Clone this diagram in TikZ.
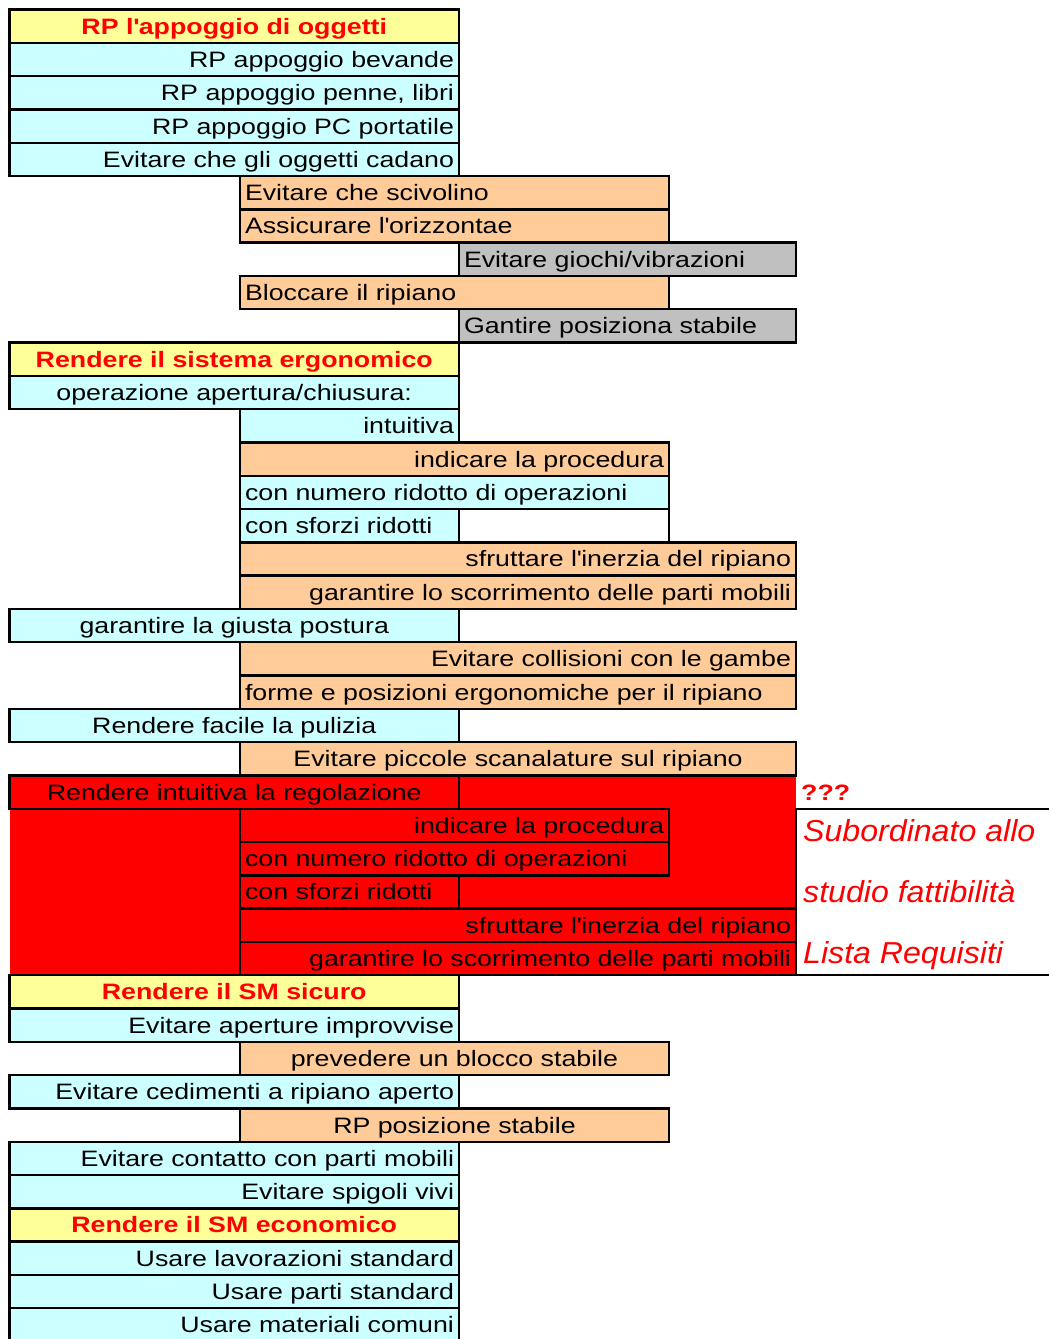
\documentclass[tikz,border=0pt]{standalone}
\usepackage{fontspec}
\setmainfont[FakeStretch=1.2]{Liberation Sans}
\newfontfamily\itfnt[FakeStretch=1.06]{Liberation Sans}
\definecolor{cyanc}{HTML}{CCFFFF}
\definecolor{yelc}{HTML}{FFFF99}
\definecolor{orgc}{HTML}{FFCC99}
\definecolor{gryc}{HTML}{C0C0C0}
\definecolor{redc}{HTML}{FF0000}
\newcommand\nfnt{\fontsize{22.3pt}{26pt}\selectfont}
\newcommand\bfnt{\bfseries\fontsize{22.3pt}{26pt}\selectfont}
\newcommand\ifnt{\itfnt\itshape\fontsize{30.3pt}{36pt}\selectfont}
\newcommand\q{\textquotesingle}
\tikzset{
  cell/.style={draw, line width=2.4pt, outer sep=0pt, inner xsep=5pt, inner ysep=0pt,
    minimum height=33.3pt, text height=19.5pt, text depth=3.5pt, anchor=north west, font=\nfnt},
  wA/.style={text width=439.5pt},
  wB/.style={text width=209pt},
  wC/.style={text width=419pt},
  wD/.style={text width=327pt},
  wE/.style={text width=546pt},
  wF/.style={text width=200pt},
  yel/.style={fill=yelc, text=redc, font=\bfnt, align=center},
  cyn/.style={fill=cyanc},
  org/.style={fill=orgc},
  gry/.style={fill=gryc},
  rdc/.style={fill=redc},
  L/.style={align=left},
  R/.style={align=right},
  C/.style={align=center},
  note/.style={text=redc, font=\ifnt, anchor=base west, inner sep=0pt}
}
\begin{document}
\begin{tikzpicture}[x=1pt,y=1pt]
\useasboundingbox (0,0) rectangle (1049,-1339);
\clip (0,0) rectangle (1049,-1339);
\begin{scope}[y=-33.3pt, yshift=-9.5pt]
\node[fill=redc, anchor=north west, minimum width=786.5pt, minimum height=199.8pt, inner sep=0pt, outer sep=0pt] (redbg) at (9.5,23) {};
\node[cell,wA,yel] (r0) at (9.5,0) {RP l\q appoggio di oggetti};
\node[cell,wA,cyn,R] (r1) at (9.5,1) {RP appoggio bevande};
\node[cell,wA,cyn,R] (r2) at (9.5,2) {RP appoggio penne, libri};
\node[cell,wA,cyn,R] (r3) at (9.5,3) {RP appoggio PC portatile};
\node[cell,wA,cyn,R] (r4) at (9.5,4) {Evitare che gli oggetti cadano};
\node[cell,wC,org,L] (r5) at (240,5) {Evitare che scivolino};
\node[cell,wC,org,L] (r6) at (240,6) {Assicurare l\q orizzontae};
\node[cell,wD,gry,L] (r7) at (459,7) {Evitare giochi/vibrazioni};
\node[cell,wC,org,L] (r8) at (240,8) {Bloccare il ripiano};
\node[cell,wD,gry,L] (r9) at (459,9) {Gantire posiziona stabile};
\node[cell,wA,yel] (r10) at (9.5,10) {Rendere il sistema ergonomico};
\node[cell,wA,cyn,C] (r11) at (9.5,11) {operazione apertura/chiusura:};
\node[cell,wB,cyn,R] (r12) at (240,12) {intuitiva};
\node[cell,wC,org,R] (r13) at (240,13) {indicare la procedura};
\node[cell,wC,cyn,L] (r14) at (240,14) {con numero ridotto di operazioni};
\node[cell,wB,cyn,L] (r15) at (240,15) {con sforzi ridotti};
\node[cell,wF,fill=white] (r15b) at (459,15) {};
\node[cell,wE,org,R] (r16) at (240,16) {sfruttare l\q inerzia del ripiano};
\node[cell,wE,org,R] (r17) at (240,17) {garantire lo scorrimento delle parti mobili};
\node[cell,wA,cyn,C] (r18) at (9.5,18) {garantire la giusta postura};
\node[cell,wE,org,R] (r19) at (240,19) {Evitare collisioni con le gambe};
\node[cell,wE,org,L] (r20) at (240,20) {forme e posizioni ergonomiche per il ripiano};
\node[cell,wA,cyn,C] (r21) at (9.5,21) {Rendere facile la pulizia};
\node[cell,wE,org,C] (r22) at (240,22) {Evitare piccole scanalature sul ripiano};
\node[cell,wA,rdc,C] (r23) at (9.5,23) {Rendere intuitiva la regolazione};
\node[cell,wC,rdc,R] (r24) at (240,24) {indicare la procedura};
\node[cell,wC,rdc,L] (r25) at (240,25) {con numero ridotto di operazioni};
\node[cell,wB,rdc,L] (r26) at (240,26) {con sforzi ridotti};
\node[cell,wE,rdc,R] (r27) at (240,27) {sfruttare l\q inerzia del ripiano};
\node[cell,wE,rdc,R] (r28) at (240,28) {garantire lo scorrimento delle parti mobili};
\node[draw, line width=2.4pt, fill=white, anchor=north west, outer sep=0pt, minimum width=262pt, minimum height=166.5pt] (notebox) at (796,24) {};
\node[cell,wA,yel] (r29) at (9.5,29) {Rendere il SM sicuro};
\node[cell,wA,cyn,R] (r30) at (9.5,30) {Evitare aperture improvvise\hspace*{4pt}};
\node[cell,wC,org,C] (r31) at (240,31) {prevedere un blocco stabile};
\node[cell,wA,cyn,R] (r32) at (9.5,32) {Evitare cedimenti a ripiano aperto};
\node[cell,wC,org,C] (r33) at (240,33) {RP posizione stabile};
\node[cell,wA,cyn,R] (r34) at (9.5,34) {Evitare contatto con parti mobili};
\node[cell,wA,cyn,R] (r35) at (9.5,35) {Evitare spigoli vivi\hspace*{6pt}};
\node[cell,wA,yel] (r36) at (9.5,36) {Rendere il SM economico};
\node[cell,wA,cyn,R] (r37) at (9.5,37) {Usare lavorazioni standard};
\node[cell,wA,cyn,R] (r38) at (9.5,38) {Usare parti standard};
\node[cell,wA,cyn,R] (r39) at (9.5,39) {Usare materiali comuni};
\end{scope}
\node[anchor=base west, inner sep=0pt, text=redc, font=\bfnt] (qqq) at (801,-800) {???};
\node[note] (n1) at (803,-841) {Subordinato allo};
\node[note] (n2) at (803,-902) {studio fattibilità};
\node[note] (n3) at (803,-963) {Lista Requisiti};
\end{tikzpicture}
\end{document}
